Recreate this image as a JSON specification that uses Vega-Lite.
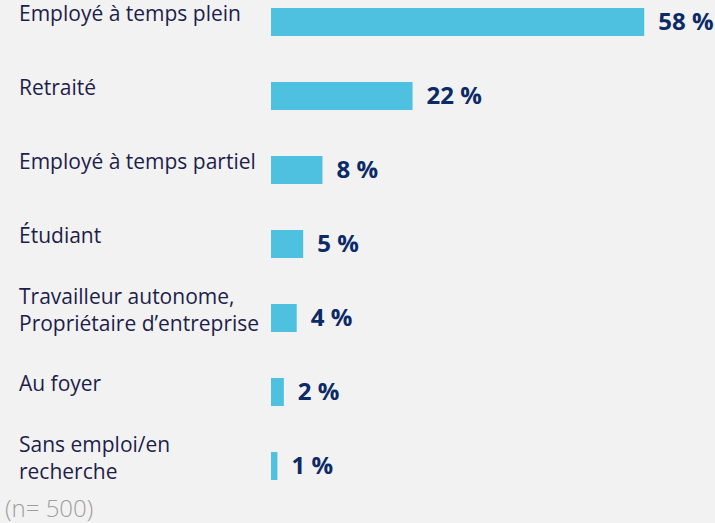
{
  "$schema": "https://vega.github.io/schema/vega-lite/v6.json",
  "width": 444,
  "height": 488,
  "autosize": "none",
  "padding": {"left": 271, "top": 0, "right": 0, "bottom": 35},
  "background": "#F2F2F2",
  "config": {"view": {"stroke": null}, "font": "Open Sans"},
  "title": {
    "text": "(n= 500)",
    "orient": "bottom",
    "anchor": "start",
    "frame": "group",
    "dx": -266,
    "offset": 10,
    "fontSize": 24,
    "fontWeight": 300,
    "font": "Open Sans",
    "color": "#9E9E9E"
  },
  "data": {
    "values": [
      {"cat": "Employé à temps plein", "lines": ["Employé à temps plein"], "nlines": 1, "pct": 58},
      {"cat": "Retraité", "lines": ["Retraité"], "nlines": 1, "pct": 22},
      {"cat": "Employé à temps partiel", "lines": ["Employé à temps partiel"], "nlines": 1, "pct": 8},
      {"cat": "Étudiant", "lines": ["Étudiant"], "nlines": 1, "pct": 5},
      {"cat": "Travailleur autonome, Propriétaire d’entreprise", "lines": ["Travailleur autonome,", "Propriétaire d’entreprise"], "nlines": 2, "pct": 4},
      {"cat": "Au foyer", "lines": ["Au foyer"], "nlines": 1, "pct": 2},
      {"cat": "Sans emploi/en recherche", "lines": ["Sans emploi/en", "recherche"], "nlines": 2, "pct": 1}
    ]
  },
  "encoding": {
    "y": {
      "field": "cat",
      "type": "nominal",
      "sort": null,
      "axis": null,
      "scale": {"paddingInner": 0.622, "paddingOuter": 0.108}
    }
  },
  "layer": [
    {
      "mark": {"type": "bar", "color": "#4FC1E0"},
      "encoding": {
        "x": {"field": "pct", "type": "quantitative", "axis": null, "scale": {"domain": [0, 69], "nice": false}}
      }
    },
    {
      "mark": {"type": "text", "align": "left", "baseline": "middle", "dx": 14, "dy": 1, "fontSize": 24, "fontWeight": "bold", "color": "#0B2A66"},
      "transform": [{"calculate": "datum.pct + ' %'", "as": "lbl"}],
      "encoding": {
        "x": {"field": "pct", "type": "quantitative"},
        "text": {"field": "lbl"}
      }
    },
    {
      "transform": [{"filter": "datum.nlines == 1"}],
      "mark": {"type": "text", "align": "left", "baseline": "middle", "dx": -252, "dy": -7, "fontSize": 21, "lineHeight": 27, "color": "#1E1E4B"},
      "encoding": {
        "x": {"datum": 0},
        "text": {"field": "lines"}
      }
    },
    {
      "transform": [{"filter": "datum.nlines == 2"}],
      "mark": {"type": "text", "align": "left", "baseline": "middle", "dx": -252, "dy": -20, "fontSize": 21, "lineHeight": 27, "color": "#1E1E4B"},
      "encoding": {
        "x": {"datum": 0},
        "text": {"field": "lines"}
      }
    }
  ]
}
